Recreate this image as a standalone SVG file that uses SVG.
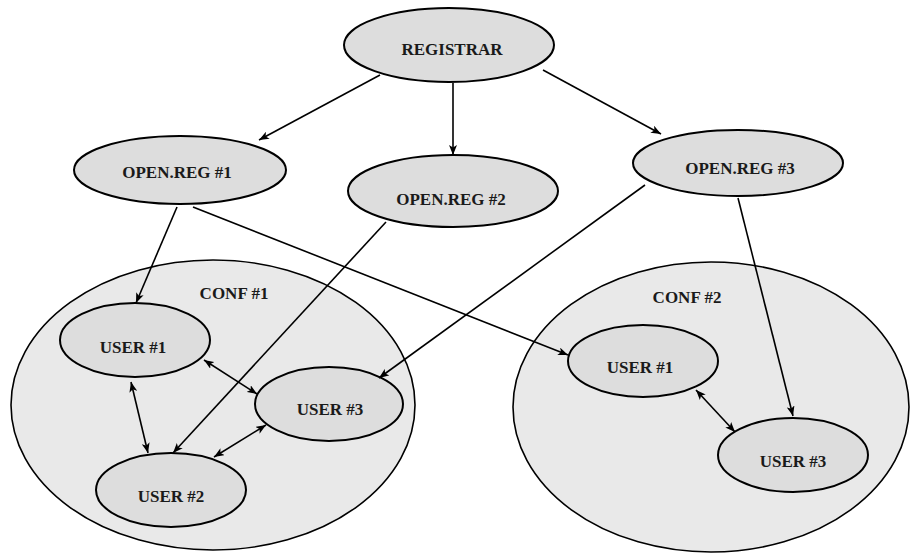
<svg xmlns="http://www.w3.org/2000/svg" width="910" height="553" viewBox="0 0 910 553">
<style>
.conf{fill:#e9e9e9;stroke:#000;stroke-width:1.6}
.node{fill:#dddddd;stroke:#000;stroke-width:2}
.lbl{font-family:"Liberation Serif","Times New Roman",serif;font-weight:bold;font-size:17px;fill:#1a1a1a;text-anchor:middle}
.edge{stroke:#000;stroke-width:1.6;fill:none;marker-end:url(#ah)}
.bi{marker-start:url(#ah)}
</style>
<defs>
<marker id="ah" markerUnits="userSpaceOnUse" viewBox="0 0 10 8" refX="10" refY="4" markerWidth="10" markerHeight="8" orient="auto-start-reverse">
<path d="M0,0 L10,4 L0,8 L2.5,4 z" fill="#000"/>
</marker>
</defs>
<rect width="910" height="553" fill="#fff"/>
<g id="conf1"><ellipse class="conf" cx="213" cy="405" rx="202" ry="145"/><text class="lbl" x="234" y="299">CONF #1</text></g>
<g id="conf2"><ellipse class="conf" cx="711" cy="407" rx="198" ry="145"/><text class="lbl" x="687" y="303">CONF #2</text></g>
<g id="registrar"><ellipse class="node" cx="449" cy="45" rx="105" ry="37"/><text class="lbl" x="452" y="55">REGISTRAR</text></g>
<g id="openreg1"><ellipse class="node" cx="180" cy="170" rx="106" ry="34"/><text class="lbl" x="177" y="178">OPEN.REG #1</text></g>
<g id="openreg2"><ellipse class="node" cx="453" cy="191" rx="105" ry="36"/><text class="lbl" x="451" y="205">OPEN.REG #2</text></g>
<g id="openreg3"><ellipse class="node" cx="738" cy="163" rx="105" ry="33"/><text class="lbl" x="740" y="174">OPEN.REG #3</text></g>
<g id="c1user1"><ellipse class="node" cx="135" cy="340" rx="75" ry="37"/><text class="lbl" x="133" y="353">USER #1</text></g>
<g id="c1user3"><ellipse class="node" cx="329" cy="404" rx="74" ry="37"/><text class="lbl" x="330" y="415">USER #3</text></g>
<g id="c1user2"><ellipse class="node" cx="171" cy="490" rx="75" ry="37"/><text class="lbl" x="171" y="502">USER #2</text></g>
<g id="c2user1"><ellipse class="node" cx="643" cy="361" rx="75" ry="36"/><text class="lbl" x="640" y="373">USER #1</text></g>
<g id="c2user3"><ellipse class="node" cx="793" cy="455" rx="75" ry="37"/><text class="lbl" x="793" y="467">USER #3</text></g>
<g id="connectors">
<line class="edge" x1="380" y1="75" x2="259" y2="140"/>
<line class="edge" x1="453" y1="83" x2="453" y2="155"/>
<line class="edge" x1="543" y1="70" x2="661" y2="134"/>
<line class="edge" x1="177" y1="207" x2="136" y2="303"/>
<line class="edge" x1="193" y1="207" x2="568" y2="355"/>
<line class="edge" x1="386" y1="222" x2="173" y2="453"/>
<line class="edge" x1="645" y1="185" x2="379" y2="378"/>
<line class="edge" x1="738" y1="198" x2="793" y2="416"/>
<line class="edge bi" x1="204" y1="360" x2="257" y2="394"/>
<line class="edge bi" x1="131" y1="382" x2="148" y2="453"/>
<line class="edge bi" x1="266" y1="425" x2="214" y2="457"/>
<line class="edge bi" x1="696" y1="390" x2="735" y2="432"/>
</g>
</svg>
